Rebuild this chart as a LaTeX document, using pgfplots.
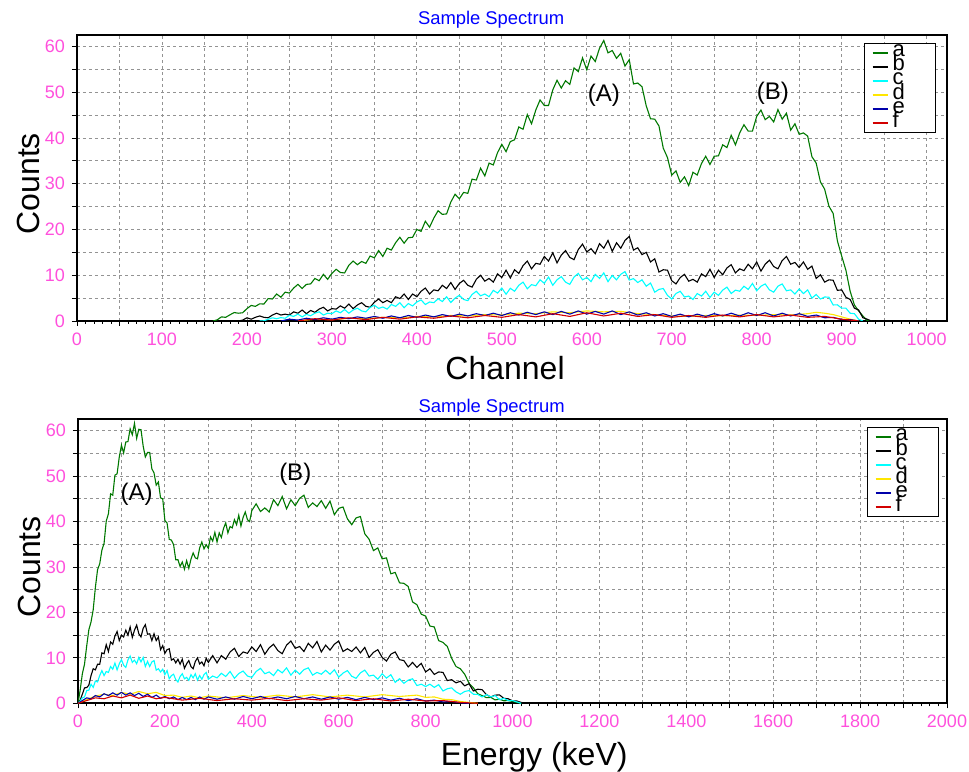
\documentclass[border=0pt]{standalone}
\usepackage{fontspec}
\setmainfont{Liberation Sans}
\usepackage{pgfplots}
\pgfplotsset{compat=1.18}
\definecolor{tickpink}{RGB}{255,80,220}
\definecolor{ca}{RGB}{0,120,0}
\definecolor{cb}{RGB}{0,0,0}
\definecolor{cc}{RGB}{0,255,255}
\definecolor{cd}{RGB}{255,230,0}
\definecolor{ce}{RGB}{0,0,170}
\definecolor{cf}{RGB}{210,0,0}
\pgfplotsset{spec/.style={
  scale only axis,
  ymin=0, ymax=62.5,
  ytick={0,5,...,60}, yticklabels={0,,10,,20,,30,,40,,50,,60},
  grid=major,
  major grid style={dash pattern=on 1.5pt off 1.5pt, gray!85, line width=0.4pt},
  axis line style={line width=1pt},
  tick align=outside, tick pos=left,
  tick style={black, line width=0.4pt},
  major tick length=2.5pt, minor tick length=1.5pt,
  minor x tick num=4,
  ticklabel style={font=\fontsize{9}{9}\selectfont, text=tickpink},
  /pgf/number format/assume math mode=true,
  every axis title shift=0pt,
  title style={font=\fontsize{9.2}{9}\selectfont, text=blue, anchor=base},
  label style={font=\fontsize{16}{16}\selectfont},
  ylabel={Counts},
  ylabel style={at={(axis description cs:-0.056,0.48)}, anchor=center},
  every axis plot/.append style={line width=0.55pt, no markers},
  legend cell align=left,
  legend image code/.code={\draw[#1, line width=1pt] (0pt,0pt) -- (7.5pt,0pt);},
  legend style={anchor=north east, draw=black, line width=0.5pt,
    font=\fontsize{11}{11}\selectfont, inner xsep=3.5pt, inner ysep=1pt,
    row sep=0pt, column sep=2pt,
    nodes={inner sep=0pt, text height=5.6pt, text depth=1.46pt, text width=18pt}},
}}
\begin{document}
\begin{tikzpicture}
\path[use as bounding box] (0,0) rectangle (484.5pt,385.5pt);
% ---- top: channel spectrum
\begin{axis}[spec,
  at={(38.5pt,225pt)}, anchor=south west,
  width=435pt, height=143pt,
  xmin=0, xmax=1024,
  xtick={0,50,...,1000},
  xticklabels={0,,100,,200,,300,,400,,500,,600,,700,,800,,900,,1000},
  title={Sample Spectrum},
  title style={at={(axis description cs:0.476,1)}, yshift=5pt},
  xlabel={Channel},
  xlabel style={at={(axis description cs:0.492,0)}, anchor=base, yshift=-29.5pt},
  legend style={at={(axis description cs:1,1)}, xshift=-5.5pt, yshift=-4pt},
]
\addplot[ca] coordinates {(160,0)(165,0.25)(170,0.9)(175,0.8)(180,1.35)(185,1.85)(190,1.7)(195,1.8)(200,2.7)(205,3.4)(210,3.2)(215,3.75)(220,3.7)(225,4.9)(230,4.8)(235,5.9)(240,5.2)(245,6.3)(250,6.1)(255,7.2)(260,8.0)(265,7.1)(270,8.0)(275,8.1)(280,9.3)(285,8.8)(290,10.2)(295,9.1)(300,10.4)(305,11.3)(310,10.6)(315,10.5)(320,12.2)(325,13.1)(330,12.3)(335,13.0)(340,12.6)(345,14.2)(350,13.8)(355,15.4)(360,14.1)(365,15.9)(370,15.5)(375,17.1)(380,18.3)(385,17.0)(390,18.2)(395,18.3)(400,20.0)(405,19.6)(410,21.8)(415,20.5)(420,22.5)(425,24.1)(430,23.3)(435,23.4)(440,26.0)(445,27.7)(450,26.7)(455,28.1)(460,27.9)(465,31.0)(470,30.8)(475,33.4)(480,31.7)(485,34.5)(490,34.1)(495,36.8)(500,38.6)(505,37.0)(510,39.2)(515,39.6)(520,42.4)(525,41.9)(530,45.1)(535,43.1)(540,46.1)(545,48.3)(550,47.1)(555,47.1)(560,50.5)(565,52.6)(570,50.9)(575,52.5)(580,51.7)(585,55.3)(590,54.5)(595,57.5)(600,54.9)(605,57.9)(610,56.7)(615,59.6)(620,61.3)(625,58.6)(630,59.1)(635,57.4)(640,58.5)(645,55.7)(650,57.1)(655,51.8)(660,52.0)(665,51.2)(670,47.0)(675,44.2)(680,44.1)(685,42.6)(690,37.8)(695,35.7)(700,31.9)(705,32.8)(710,30.3)(715,31.5)(720,29.6)(725,32.5)(730,31.9)(735,34.4)(740,36.0)(745,34.2)(750,36.0)(755,36.1)(760,38.5)(765,37.9)(770,40.6)(775,38.5)(780,41.1)(785,42.9)(790,41.5)(795,41.5)(800,44.7)(805,46.1)(810,44.0)(815,44.7)(820,43.5)(825,46.2)(830,44.1)(835,45.4)(840,41.7)(845,43.1)(850,40.8)(855,41.1)(860,40.4)(865,35.9)(870,34.5)(875,30.4)(880,28.8)(885,25.1)(890,23.5)(895,17.5)(900,14.2)(905,11.1)(910,6.5)(915,3.5)(920,2.2)(925,1.1)(930,0.1)(935,0)};
\addlegendentry{a}
\addplot[cb] coordinates {(190,0)(195,0.2)(200,0.7)(205,0.4)(210,0.8)(215,1.1)(220,0.8)(225,0.7)(230,1.3)(235,1.7)(240,1.3)(245,1.5)(250,1.3)(255,2.0)(260,1.7)(265,2.4)(270,1.6)(275,2.3)(280,1.9)(285,2.6)(290,3.0)(295,2.2)(300,2.7)(305,2.6)(310,3.3)(315,2.8)(320,3.7)(325,2.7)(330,3.5)(335,4.0)(340,3.2)(345,3.0)(350,4.1)(355,4.8)(360,4.0)(365,4.5)(370,4.0)(375,5.3)(380,4.9)(385,5.9)(390,4.7)(395,5.9)(400,5.3)(405,6.5)(410,7.2)(415,5.9)(420,6.8)(425,6.6)(430,7.8)(435,7.1)(440,8.4)(445,6.9)(450,8.2)(455,8.9)(460,7.8)(465,7.4)(470,9.1)(475,10.0)(480,8.7)(485,9.3)(490,8.5)(495,10.3)(500,9.5)(505,11.1)(510,9.4)(515,11.2)(520,10.4)(525,12.1)(530,13.1)(535,11.4)(540,12.6)(545,12.4)(550,14.1)(555,13.1)(560,14.9)(565,12.7)(570,14.4)(575,15.4)(580,13.9)(585,13.4)(590,15.6)(595,16.8)(600,15.1)(605,15.8)(610,14.7)(615,16.9)(620,15.9)(625,17.6)(630,15.2)(635,17.1)(640,15.9)(645,17.6)(650,18.5)(655,15.5)(660,16.0)(665,14.5)(670,15.0)(675,12.9)(680,13.6)(685,10.7)(690,11.2)(695,11.1)(700,8.8)(705,8.1)(710,9.5)(715,10.2)(720,8.7)(725,9.1)(730,8.5)(735,10.3)(740,9.7)(745,11.3)(750,9.5)(755,11.1)(760,10.1)(765,11.6)(770,12.3)(775,10.5)(780,11.4)(785,11.0)(790,12.4)(795,11.4)(800,12.9)(805,10.9)(810,12.4)(815,13.3)(820,11.9)(825,11.4)(830,13.2)(835,14.1)(840,12.4)(845,12.8)(850,11.7)(855,12.9)(860,11.3)(865,12.0)(870,9.3)(875,10.1)(880,8.5)(885,9.0)(890,8.9)(895,6.7)(900,6.8)(905,5.2)(910,4.7)(915,2.8)(920,2.4)(925,0.7)(930,0.4)(935,0)};
\addlegendentry{b}
\addplot[cc] coordinates {(215,0)(220,0.05)(225,0.37)(230,0.69)(235,0.5)(240,0.74)(245,0.6)(250,1.24)(255,1.0)(260,1.5)(265,0.9)(270,1.45)(275,1.15)(280,1.7)(285,2.0)(290,1.3)(295,1.7)(300,1.6)(305,2.2)(310,1.8)(315,2.5)(320,1.7)(325,2.4)(330,2.8)(335,2.2)(340,2.0)(345,2.95)(350,3.45)(355,2.75)(360,3.05)(365,2.6)(370,3.6)(375,3.2)(380,4.0)(385,2.9)(390,3.8)(395,3.3)(400,4.15)(405,4.6)(410,3.6)(415,4.16)(420,4.0)(425,4.85)(430,4.25)(435,5.3)(440,4.05)(445,5.0)(450,5.6)(455,4.7)(460,4.45)(465,5.8)(470,6.5)(475,5.5)(480,5.9)(485,5.3)(490,6.7)(495,6.1)(500,7.2)(505,5.85)(510,7.15)(515,6.5)(520,7.8)(525,8.5)(530,7.05)(535,7.94)(540,7.7)(545,9.0)(550,8.25)(555,9.6)(560,7.8)(565,9.0)(570,9.7)(575,8.5)(580,8.0)(585,9.6)(590,10.4)(595,9.0)(600,9.5)(605,8.6)(610,10.2)(615,9.3)(620,10.5)(625,8.6)(630,9.95)(635,9.0)(640,10.2)(645,10.8)(650,8.95)(655,9.26)(660,8.4)(665,9.0)(670,7.6)(675,8.3)(680,6.3)(685,6.9)(690,7.1)(695,5.6)(700,4.8)(705,6.0)(710,6.5)(715,5.25)(720,5.45)(725,4.7)(730,6.0)(735,5.45)(740,6.5)(745,5.15)(750,6.3)(755,5.6)(760,6.75)(765,7.4)(770,6.0)(775,6.75)(780,6.5)(785,7.6)(790,6.9)(795,8.2)(800,6.6)(805,7.6)(810,8.1)(815,6.8)(820,6.3)(825,7.6)(830,8.1)(835,6.6)(840,6.8)(845,5.9)(850,7.0)(855,6.0)(860,6.8)(865,5.0)(870,5.8)(875,4.8)(880,5.25)(885,5.2)(890,3.5)(895,3.54)(900,2.8)(905,2.8)(910,1.7)(915,1.6)(920,0.4)(925,0)};
\addlegendentry{c}
\addplot[cd] coordinates {(260,0)(280,0.4)(300,0.3)(320,0.6)(340,0.5)(360,0.8)(380,0.7)(400,1.0)(420,0.9)(440,1.2)(460,1.1)(480,1.4)(500,1.3)(520,1.7)(540,1.6)(560,2.0)(580,1.8)(600,2.2)(620,2.0)(640,2.1)(660,1.6)(680,1.4)(700,1.1)(720,1.0)(740,1.2)(760,1.1)(780,1.3)(800,1.2)(820,1.4)(840,1.3)(860,1.6)(870,1.9)(880,1.7)(890,1.4)(900,0.9)(910,0.4)(920,0)};
\addlegendentry{d}
\addplot[ce] coordinates {(240,0)(250,0.4)(260,0.2)(270,0.6)(280,0.3)(290,0.7)(300,0.4)(310,0.8)(320,0.5)(330,0.9)(340,0.6)(350,1.0)(360,0.6)(370,1.1)(380,0.7)(390,1.2)(400,0.8)(410,1.3)(420,0.9)(430,1.4)(440,1.0)(450,1.5)(460,1.1)(470,1.6)(480,1.2)(490,1.7)(500,1.2)(510,1.8)(520,1.3)(530,1.9)(540,1.4)(550,2.0)(560,1.4)(570,2.1)(580,1.5)(590,2.2)(600,1.5)(610,2.1)(620,1.5)(630,2.2)(640,1.4)(650,2.0)(660,1.3)(670,1.8)(680,1.1)(690,1.6)(700,1.0)(710,1.5)(720,0.9)(730,1.5)(740,1.0)(750,1.6)(760,1.1)(770,1.7)(780,1.1)(790,1.8)(800,1.2)(810,1.8)(820,1.1)(830,1.7)(840,1.1)(850,1.6)(860,1.0)(870,1.3)(880,0.7)(890,0.8)(900,0.3)(910,0.3)(920,0)};
\addlegendentry{e}
\addplot[cf] coordinates {(260,0)(280,0.5)(300,0.2)(320,0.7)(340,0.3)(360,0.8)(380,0.4)(400,0.9)(420,0.6)(440,1.1)(460,0.7)(480,1.2)(500,0.8)(520,1.4)(540,0.9)(560,1.6)(580,1.0)(600,1.8)(620,1.1)(640,1.7)(660,1.0)(680,1.4)(700,0.8)(720,1.2)(740,0.8)(760,1.3)(780,0.9)(800,1.4)(820,0.9)(840,1.3)(860,0.8)(880,1.0)(900,0.4)(910,0.2)(920,0)};
\addlegendentry{f}
\node[font=\fontsize{12}{12}\selectfont] at (axis cs:620,49.3) {(A)};
\node[font=\fontsize{12}{12}\selectfont] at (axis cs:819,49.8) {(B)};
\end{axis}
% ---- bottom: energy spectrum
\begin{axis}[spec,
  at={(39pt,33.85pt)}, anchor=south west,
  width=434.5pt, height=142pt,
  xmin=0, xmax=2000,
  xtick={0,100,...,2000},
  xticklabels={0,,200,,400,,600,,800,,1000,,1200,,1400,,1600,,1800,,2000},
  title={Sample Spectrum},
  title style={at={(axis description cs:0.476,1)}, yshift=3.5pt},
  xlabel={Energy (keV)},
  xlabel style={at={(axis description cs:0.525,0)}, anchor=base, yshift=-31pt},
  legend style={at={(axis description cs:1,1)}, xshift=-4pt, yshift=-4pt},
]
\addplot[ca] coordinates {(0,0)(5,2.9)(10,6.5)(15,8.6)(20,12.6)(25,16.2)(30,17.9)(35,20.6)(40,25.5)(45,29.4)(50,30.7)(55,33.7)(60,35.2)(65,40.1)(70,41.7)(75,46.1)(80,45.8)(85,50.2)(90,50.5)(95,54.2)(100,56.8)(105,55.1)(110,57.5)(115,57.6)(120,60.4)(125,59.1)(130,61.6)(135,58.3)(140,60.3)(145,60.2)(150,56.6)(155,54.2)(160,55.2)(165,55.2)(170,51.6)(175,50.7)(180,48.0)(185,48.7)(190,45.2)(195,45.0)(200,40.2)(205,39.7)(210,36.1)(215,35.9)(220,34.9)(225,31.6)(230,31.6)(235,30.1)(240,31.1)(245,29.5)(250,31.4)(255,29.7)(260,31.7)(265,33.1)(270,32.0)(275,31.8)(280,34.2)(285,35.5)(290,34.0)(295,34.9)(300,34.1)(305,36.6)(310,35.7)(315,37.6)(320,35.5)(325,37.5)(330,36.5)(335,38.5)(340,39.7)(345,37.5)(350,38.9)(355,38.6)(360,40.4)(365,39.3)(370,41.4)(375,39.0)(380,40.9)(385,42.1)(390,40.4)(395,40.0)(400,42.4)(410,43.9)(420,42.2)(430,43.0)(440,42.1)(450,44.8)(460,43.5)(470,45.5)(480,42.8)(490,44.8)(500,43.5)(510,45.1)(520,45.8)(530,43.1)(540,44.1)(550,43.3)(560,44.6)(570,42.9)(580,44.5)(590,41.5)(600,42.9)(610,43.2)(620,40.6)(630,39.3)(640,40.8)(650,41.1)(660,37.3)(670,36.1)(680,33.6)(690,34.2)(700,31.8)(710,32.0)(720,28.5)(730,28.8)(740,26.5)(750,26.4)(760,25.7)(770,22.3)(780,21.7)(790,19.6)(800,19.2)(810,17.0)(820,16.8)(830,13.8)(840,13.4)(850,12.5)(860,9.9)(870,8.1)(880,7.6)(890,6.4)(900,4.4)(910,3.4)(920,2.1)(930,1.7)(940,1.25)(950,1.3)(960,0.75)(970,0.9)(980,0.55)(990,0.6)(1000,0.4)(1010,0.2)(1020,0)};
\addlegendentry{a}
\addplot[cb] coordinates {(0,0)(5,0.7)(10,2.0)(15,3.4)(20,3.45)(25,4.0)(30,6.1)(35,7.6)(40,7.35)(45,8.6)(50,8.6)(55,11.1)(60,10.9)(65,12.9)(70,11.4)(75,13.5)(80,13.0)(85,14.8)(90,15.8)(95,13.8)(100,15.0)(105,14.6)(110,16.1)(115,15.0)(120,16.8)(125,14.5)(130,16.1)(135,17.2)(140,15.3)(145,14.6)(150,16.5)(155,17.3)(160,15.2)(165,15.3)(170,13.8)(175,15.3)(180,13.8)(185,14.6)(190,11.8)(195,12.7)(200,11.0)(205,11.8)(210,12.0)(215,9.5)(220,9.8)(225,8.9)(230,9.7)(235,8.6)(240,9.7)(245,7.7)(250,8.7)(255,9.4)(260,8.1)(265,7.6)(270,9.2)(275,10.0)(280,8.65)(285,9.1)(290,8.25)(295,9.9)(300,9.0)(310,10.5)(320,8.9)(330,10.5)(340,9.7)(350,11.3)(360,12.1)(370,10.3)(380,11.3)(390,11.0)(400,12.4)(410,11.4)(420,12.9)(430,10.8)(440,12.2)(450,13.0)(460,11.6)(470,10.9)(480,12.8)(490,13.7)(500,12.1)(510,12.5)(520,11.4)(530,13.2)(540,12.2)(550,13.6)(560,11.3)(570,12.8)(580,11.7)(590,13.0)(600,13.7)(610,11.4)(620,12.0)(630,11.4)(640,12.4)(650,11.1)(660,12.3)(670,10.1)(680,11.2)(690,11.8)(700,10.1)(710,9.3)(720,10.8)(730,11.3)(740,9.6)(750,9.4)(760,8.0)(770,9.0)(780,7.9)(790,8.8)(800,6.9)(810,7.6)(820,6.35)(830,6.9)(840,6.8)(850,5.0)(860,5.2)(870,4.5)(880,4.85)(890,3.85)(900,4.3)(910,2.7)(920,3.1)(930,3.0)(940,1.9)(950,1.4)(960,1.8)(970,1.85)(980,1.1)(990,1.0)(1000,0.55)(1010,0.5)(1020,0.2)(1030,0)};
\addlegendentry{b}
\addplot[cc] coordinates {(0,0)(5,0.5)(10,1.2)(15,1.4)(20,2.8)(25,2.9)(30,4.2)(35,3.5)(40,4.9)(45,4.7)(50,6.1)(55,7.2)(60,6.1)(65,7.0)(70,6.8)(75,8.1)(80,7.5)(85,8.85)(90,7.35)(95,8.7)(100,9.6)(105,8.4)(110,7.9)(115,9.55)(120,10.4)(125,9.0)(130,9.5)(135,8.7)(140,10.1)(145,9.1)(150,10.1)(155,8.1)(160,9.2)(165,8.1)(170,9.1)(175,9.4)(180,7.3)(185,7.6)(190,6.9)(195,7.5)(200,6.3)(205,7.2)(210,5.4)(215,6.1)(220,6.4)(225,5.2)(230,4.7)(235,5.9)(240,6.5)(245,5.4)(250,5.7)(255,5.05)(260,6.3)(265,5.6)(270,6.5)(275,5.1)(280,6.1)(285,5.3)(290,6.3)(295,6.8)(300,5.3)(310,6.0)(320,5.6)(330,6.6)(340,5.9)(350,7.0)(360,5.5)(370,6.55)(380,7.1)(390,6.0)(400,5.7)(410,7.0)(420,7.7)(430,6.5)(440,6.9)(450,6.1)(460,7.4)(470,6.7)(480,7.8)(490,6.2)(500,7.3)(510,6.4)(520,7.4)(530,7.8)(540,6.2)(550,6.8)(560,6.4)(570,7.25)(580,6.4)(590,7.4)(600,5.75)(610,6.65)(620,7.2)(630,5.95)(640,5.5)(650,6.7)(660,7.3)(670,6.0)(680,6.2)(690,5.3)(700,6.5)(710,5.55)(720,6.3)(730,4.6)(740,5.4)(750,4.4)(760,5.1)(770,5.4)(780,3.9)(790,4.2)(800,3.7)(810,4.2)(820,3.5)(830,4.1)(840,2.7)(850,3.2)(860,3.4)(870,2.5)(880,2.0)(890,2.6)(900,2.8)(910,2.0)(920,1.95)(930,1.4)(940,1.9)(950,1.4)(960,1.7)(970,0.8)(980,1.1)(990,0.6)(1000,0.6)(1010,0.3)(1020,0)};
\addlegendentry{c}
\addplot[cd] coordinates {(0,0)(20,0.8)(40,1.6)(60,2.0)(80,1.7)(100,2.4)(120,2.0)(140,2.6)(160,2.1)(180,2.4)(200,1.7)(220,1.8)(240,1.3)(260,1.6)(280,1.2)(300,1.6)(340,1.2)(380,1.7)(420,1.3)(460,1.8)(500,1.4)(540,1.9)(580,1.4)(620,1.8)(660,1.4)(700,1.9)(740,1.5)(780,1.8)(800,1.3)(820,1.4)(840,0.9)(860,0.8)(880,0.4)(900,0.2)(920,0)};
\addlegendentry{d}
\addplot[ce] coordinates {(0,0)(10,0.6)(20,1.2)(30,1.0)(40,1.7)(50,1.4)(60,2.1)(70,1.7)(80,2.3)(90,1.8)(100,2.4)(110,1.8)(120,2.3)(130,1.7)(140,2.2)(150,1.5)(160,2.0)(170,1.3)(180,1.8)(190,1.1)(200,1.5)(210,1.0)(220,1.4)(230,0.8)(240,1.3)(250,0.8)(260,1.3)(270,0.8)(280,1.4)(290,0.9)(300,1.4)(320,0.9)(340,1.4)(360,0.9)(380,1.5)(400,1.0)(420,1.5)(440,1.0)(460,1.4)(480,1.0)(500,1.5)(520,1.0)(540,1.4)(560,0.9)(580,1.4)(600,0.9)(620,1.3)(640,0.8)(660,1.3)(680,0.8)(700,1.2)(720,0.7)(740,1.1)(760,0.6)(780,1.0)(800,0.5)(820,0.7)(840,0.3)(860,0.4)(880,0.1)(900,0)};
\addlegendentry{e}
\addplot[cf] coordinates {(0,0)(20,0.6)(40,1.2)(60,1.0)(80,1.6)(100,1.2)(120,1.8)(140,1.1)(160,1.6)(180,1.0)(200,1.3)(240,0.7)(280,1.1)(320,0.6)(360,1.0)(400,0.7)(440,1.1)(480,0.6)(520,1.0)(560,0.7)(600,1.2)(640,0.6)(680,1.0)(720,0.5)(760,0.9)(800,0.5)(840,0.6)(880,0.2)(920,0)};
\addlegendentry{f}
\node[font=\fontsize{12}{12}\selectfont] at (axis cs:135,45.9) {(A)};
\node[font=\fontsize{12}{12}\selectfont] at (axis cs:500,50.3) {(B)};
\end{axis}
\end{tikzpicture}
\end{document}
